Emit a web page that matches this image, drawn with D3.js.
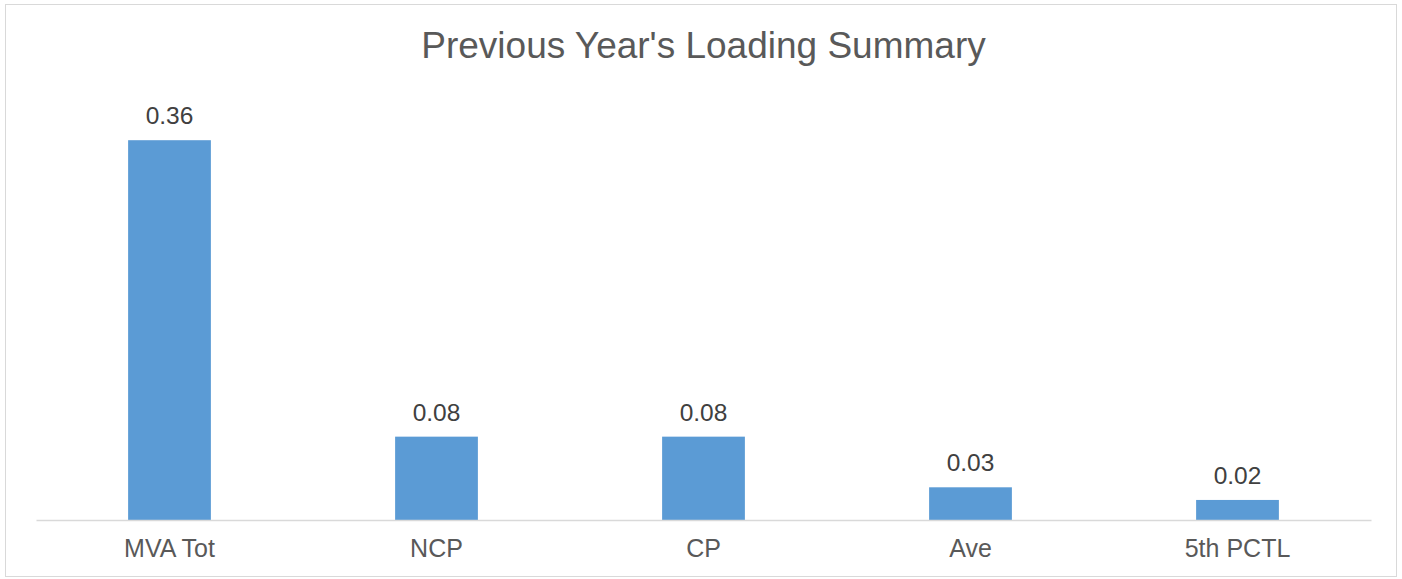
<!DOCTYPE html>
<html>
<head>
<meta charset="utf-8">
<script src="https://cdn.jsdelivr.net/npm/d3@7"></script>
<style>
  body { margin: 0; background: #fff; }
  svg { font-family: "Liberation Sans", Arial, sans-serif; }
</style>
</head>
<body>
<svg id="chart" width="1402" height="579"></svg>
<script>
const categories = ['MVA Tot', 'NCP', 'CP', 'Ave', '5th PCTL'];
const values = [0.36, 0.079, 0.079, 0.031, 0.019];
const title = "Previous Year's Loading Summary";

const width = 1402;
const height = 579;
const plot = { left: 36, right: 1371, top: 98, bottom: 520 };

const svg = d3.select('#chart');

// outer chart border
svg.append('rect')
  .attr('x', 5.5)
  .attr('y', 4.5)
  .attr('width', width - 11)
  .attr('height', height - 7)
  .attr('fill', '#fff')
  .attr('stroke', '#d9d9d9');

const x = d3.scaleBand()
  .domain(categories)
  .range([plot.left, plot.right])
  .paddingInner(0.69)
  .paddingOuter(0.345);

const y = d3.scaleLinear()
  .domain([0, 0.4])
  .range([plot.bottom, plot.top]);

svg.append('text')
  .attr('x', (plot.left + plot.right) / 2)
  .attr('y', 58)
  .attr('text-anchor', 'middle')
  .attr('fill', '#595959')
  .style('font-size', '37px')
  .text(title);

const data = categories.map((c, i) => ({ name: c, value: values[i] }));

svg.append('g')
  .selectAll('rect')
  .data(data)
  .enter()
  .append('rect')
  .attr('x', d => x(d.name))
  .attr('y', d => y(d.value))
  .attr('width', x.bandwidth())
  .attr('height', d => y(0) - y(d.value))
  .attr('fill', '#5b9bd5');

svg.append('g')
  .selectAll('text')
  .data(data)
  .enter()
  .append('text')
  .attr('x', d => x(d.name) + x.bandwidth() / 2)
  .attr('y', d => y(d.value) - 16)
  .attr('text-anchor', 'middle')
  .attr('fill', '#404040')
  .style('font-size', '24.5px')
  .text(d => d3.format('.2f')(d.value));

const xAxis = d3.axisBottom(x).tickSize(0).tickPadding(20);

const gx = svg.append('g')
  .attr('transform', `translate(0, ${plot.bottom})`)
  .call(xAxis);

gx.select('.domain').attr('stroke', '#d9d9d9').attr('stroke-width', 1.5);
gx.selectAll('.tick text')
  .attr('fill', '#595959')
  .attr('dy', '0')
  .attr('y', 37)
  .style('font-size', '25px')
  .style('font-family', '"Liberation Sans", Arial, sans-serif');
</script>
</body>
</html>
